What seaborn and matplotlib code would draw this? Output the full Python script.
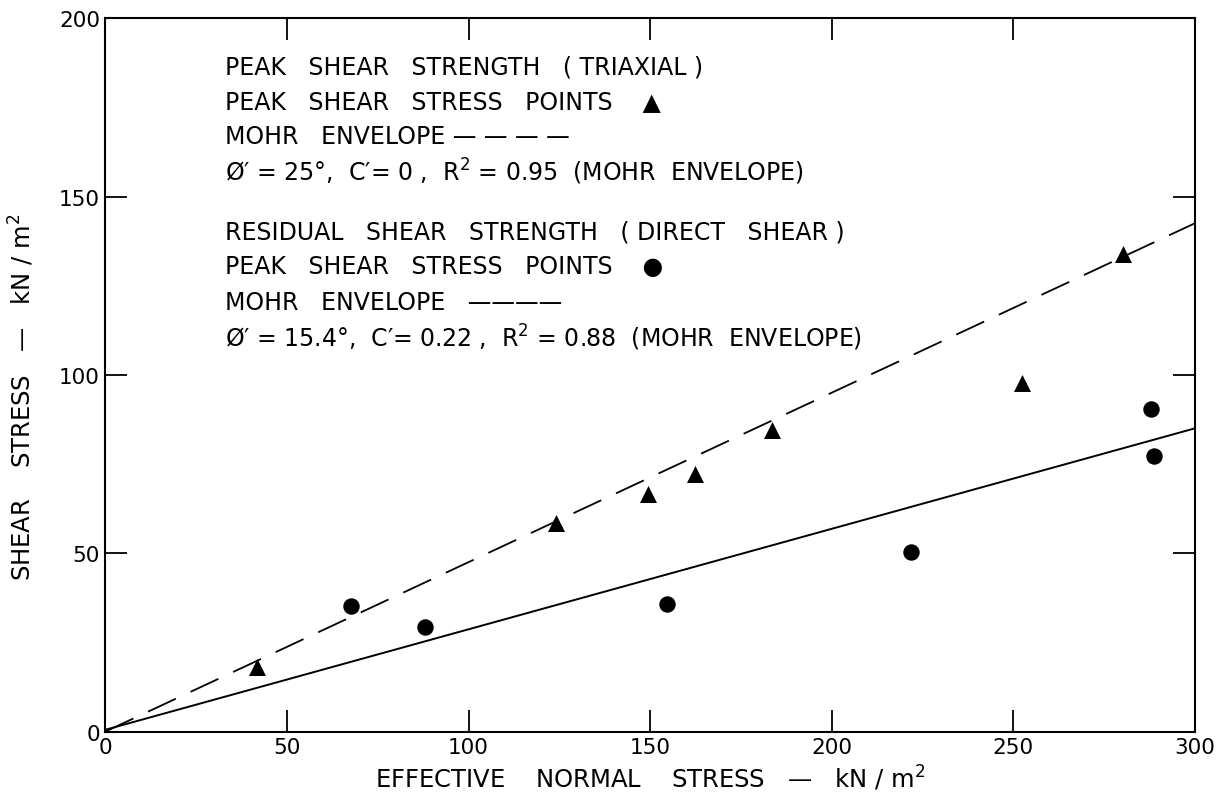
import matplotlib
matplotlib.use("Agg")
import matplotlib.pyplot as plt
import seaborn as sns
import pandas as pd

# ---- data ----
tri_x = [41.8, 124.2, 149.4, 162.5, 183.7, 252.4, 280.3]
tri_y = [18.0, 58.5, 66.5, 72.3, 84.5, 97.6, 133.9]
circ_x = [67.6, 88.0, 154.7, 221.8, 287.9, 288.8]
circ_y = [35.1, 29.4, 35.8, 50.3, 90.4, 77.3]
env_x = [0, 300]
peak_env_y = [0.0, 142.5]
resid_env_y = [0.5, 85.0]
x_ticks = [0, 50, 100, 150, 200, 250, 300]
y_ticks = [0, 50, 100, 150, 200]
legend_lines = [
    "PEAK   SHEAR   STRENGTH   ( TRIAXIAL )",
    "PEAK   SHEAR   STRESS   POINTS    \u25B2",
    "MOHR   ENVELOPE \u2014 \u2014 \u2014 \u2014",
    "\u00D8\u2032 = 25\u00B0,  C\u2032= 0 ,  R$^{2}$ = 0.95  (MOHR  ENVELOPE)",
    "RESIDUAL   SHEAR   STRENGTH   ( DIRECT   SHEAR )",
    "PEAK   SHEAR   STRESS   POINTS    \u25CF",
    "MOHR   ENVELOPE   \u2014\u2014\u2014\u2014",
    "\u00D8\u2032 = 15.4\u00B0,  C\u2032= 0.22 ,  R$^{2}$ = 0.88  (MOHR  ENVELOPE)",
]

sns.set_style("white")
plt.rcParams["font.family"] = ["DejaVu Sans"]

fig = plt.figure(figsize=(12.28, 8.04), dpi=100)
ax = fig.add_axes([0.0859, 0.0889, 0.9729 - 0.0859, 0.976 - 0.0889])

tri_df = pd.DataFrame({"x": tri_x, "y": tri_y})
circ_df = pd.DataFrame({"x": circ_x, "y": circ_y})
env_df = pd.DataFrame({"x": env_x, "peak": peak_env_y, "resid": resid_env_y})

sns.lineplot(data=env_df, x="x", y="peak", ax=ax, color="black", lw=1.3,
             estimator=None)
ax.lines[-1].set_dashes((17, 9))
sns.lineplot(data=env_df, x="x", y="resid", ax=ax, color="black", lw=1.4,
             estimator=None)
sns.scatterplot(data=tri_df, x="x", y="y", ax=ax, marker="^", s=150,
                color="black", edgecolor="black", linewidth=0, zorder=5)
sns.scatterplot(data=circ_df, x="x", y="y", ax=ax, marker="o", s=140,
                color="black", edgecolor="black", linewidth=0, zorder=5)

ax.set_xlim(0, 300)
ax.set_ylim(0, 200)
ax.set_xticks(x_ticks)
ax.set_yticks(y_ticks)
ax.set_xticklabels([str(t) for t in x_ticks])
ax.set_yticklabels([str(t) for t in y_ticks])
ax.tick_params(axis="both", which="both", direction="in", length=16, width=1.3,
               top=True, right=True, bottom=True, left=True,
               labelsize=15.5, colors="black", pad=4)
for sp in ax.spines.values():
    sp.set_visible(True)
    sp.set_color("black")
    sp.set_linewidth(1.5)

ax.set_xlabel("EFFECTIVE    NORMAL    STRESS   \u2014   kN / m$^{2}$",
              fontsize=17.5, labelpad=4, color="black")
ax.set_ylabel("SHEAR    STRESS   \u2014   kN / m$^{2}$",
              fontsize=17.5, color="black")
ax.yaxis.set_label_coords(-0.064, 0.47)

y0 = 0.933
dy = 0.0492
for i, line in enumerate(legend_lines):
    yy = y0 - i * dy - (0.035 if i >= 4 else 0)
    ax.text(0.11, yy, line, transform=ax.transAxes, fontsize=17,
            va="center", ha="left", color="black")

fig.savefig("out.png", dpi=100, facecolor="white")
